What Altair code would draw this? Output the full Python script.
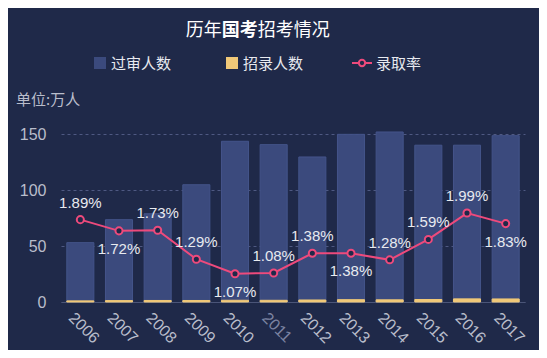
import altair as alt
import pandas as pd

# ---- data ----
years = ["2006", "2007", "2008", "2009", "2010", "2011",
         "2012", "2013", "2014", "2015", "2016", "2017"]
passed = [53.0, 73.5, 78.8, 104.7, 143.5, 140.5, 129.5, 149.7, 151.8, 140.0, 140.0, 148.5]
hired = [1.00, 1.26, 1.36, 1.35, 1.54, 1.52, 1.79, 2.07, 1.94, 2.23, 2.79, 2.72]
rate = [1.89, 1.72, 1.73, 1.29, 1.07, 1.08, 1.38, 1.38, 1.28, 1.59, 1.99, 1.83]
rate_labels = ["1.89%", "1.72%", "1.73%", "1.29%", "1.07%", "1.08%",
               "1.38%", "1.38%", "1.28%", "1.59%", "1.99%", "1.83%"]
below_years = ["2007", "2010", "2013", "2017"]
y_ticks = [0, 50, 100, 150]
series_names = ["过审人数", "招录人数", "录取率"]
title_parts = ["历年", "国考", "招考情况"]
unit_text = "单位:万人"

df = pd.DataFrame({"year": years, "passed": passed, "hired": hired,
                   "rate": rate, "label": rate_labels})
df["pos"] = ["below" if y in below_years else "above" for y in years]

# ---- styles ----
BG = "#1f2949"
BLUE = "#3b4a7d"
BLUE_EDGE = "#44548a"
YELLOW = "#f0c878"
PINK = "#ee4a7c"
TXT = "#e8eaf0"
AXT = "#b9bdcb"
FONT = "Liberation Sans, Noto Sans CJK SC"
CJK = "Noto Sans CJK SC"

xscale = alt.Scale(range=[9, 473], paddingInner=0.3, paddingOuter=0.15)
xaxis = alt.Axis(title=None, labelAngle=45, labelAlign="left", labelBaseline="middle",
                 labelOffset=-9, labelPadding=13, ticks=False, domain=False,
                 labelFontSize=16, labelFont=FONT,
                 labelColor={"condition": {"test": "datum.value === '2011'", "value": "#7c84a2"},
                             "value": AXT})
yscale = alt.Scale(domain=[0, 150], nice=False)
yaxis = alt.Axis(title=None, values=y_ticks, ticks=False, domain=False,
                 labelFontSize=16, labelFont=FONT, labelColor=AXT, labelPadding=6,
                 grid=True,
                 gridColor={"condition": {"test": "datum.value === 0", "value": "#5a6489"},
                            "value": "#4f5982"},
                 gridDash={"condition": {"test": "datum.value === 0", "value": [1, 0]},
                           "value": [3, 3]},
                 gridWidth=1)
rscale = alt.Scale(domain=[0.64, 3.19], nice=False, zero=False)

base = alt.Chart(df).encode(x=alt.X("year:O", scale=xscale, axis=xaxis))

bars_blue = base.mark_bar(color=BLUE, stroke=BLUE_EDGE, strokeWidth=1).encode(
    y=alt.Y("passed:Q", scale=yscale, axis=yaxis))
bars_yellow = base.mark_bar(color=YELLOW, stroke=YELLOW, strokeWidth=1).encode(
    y=alt.Y("hired:Q", scale=yscale, axis=None))

line = base.mark_line(color=PINK, strokeWidth=2).encode(
    y=alt.Y("rate:Q", scale=rscale, axis=None))
pts = base.mark_point(shape="circle", size=50, filled=True, fill=BG, stroke=PINK,
                      strokeWidth=2, opacity=1).encode(
    y=alt.Y("rate:Q", scale=rscale, axis=None))
lab_above = base.transform_filter(alt.datum.pos == "above").mark_text(
    dy=-17, fontSize=15, font=FONT, color=TXT).encode(
    y=alt.Y("rate:Q", scale=rscale, axis=None), text="label:N")
lab_below = base.transform_filter(alt.datum.pos == "below").mark_text(
    dy=18, fontSize=15, font=FONT, color=TXT).encode(
    y=alt.Y("rate:Q", scale=rscale, axis=None), text="label:N")

def txt(s, x, y, size, color=TXT, weight="normal", align="center", font=CJK):
    return alt.Chart(pd.DataFrame({"t": [s]})).mark_text(
        fontSize=size, color=color, fontWeight=weight, align=align,
        baseline="middle", font=font).encode(
        text="t:N", x=alt.value(x), y=alt.value(y))

title_layers = [
    txt(title_parts[0], 151.7, -103.5, 18, "#ffffff"),
    txt(title_parts[1], 187.7, -103.5, 18, "#ffffff", weight="bold"),
    txt(title_parts[2], 241.7, -103.5, 18, "#ffffff"),
]

one = pd.DataFrame({"k": [0]})
leg_blue = alt.Chart(one).mark_square(size=144, color=BLUE, opacity=1).encode(
    x=alt.value(48), y=alt.value(-71))
leg_yellow = alt.Chart(one).mark_square(size=144, color=YELLOW, opacity=1).encode(
    x=alt.value(180), y=alt.value(-71))
leg_rule = alt.Chart(one).mark_rule(color=PINK, strokeWidth=2).encode(
    x=alt.value(300), x2=alt.value(320), y=alt.value(-71))
leg_pt = alt.Chart(one).mark_point(shape="circle", size=40, filled=True, fill=BG,
                                    stroke=PINK, strokeWidth=2, opacity=1).encode(
    x=alt.value(310), y=alt.value(-71))
legend_layers = [
    leg_blue, txt(series_names[0], 59, -70.5, 15, align="left"),
    leg_yellow, txt(series_names[1], 191, -70.5, 15, align="left"),
    leg_rule, leg_pt, txt(series_names[2], 324, -70.5, 15, align="left"),
    txt(unit_text, -36, -34, 15, color=AXT, align="left"),
]

chart = alt.layer(
    bars_blue, bars_yellow, line, pts, lab_above, lab_below,
    *title_layers, *legend_layers
).resolve_scale(y="independent").properties(
    width=470, height=168,
    autosize=alt.AutoSizeParams(type="none"),
    padding={"left": 44, "top": 126, "right": 17, "bottom": 48},
    background=BG,
).configure_view(stroke=None)

chart.save("out.html", embed_options={"renderer": "svg", "actions": False})
